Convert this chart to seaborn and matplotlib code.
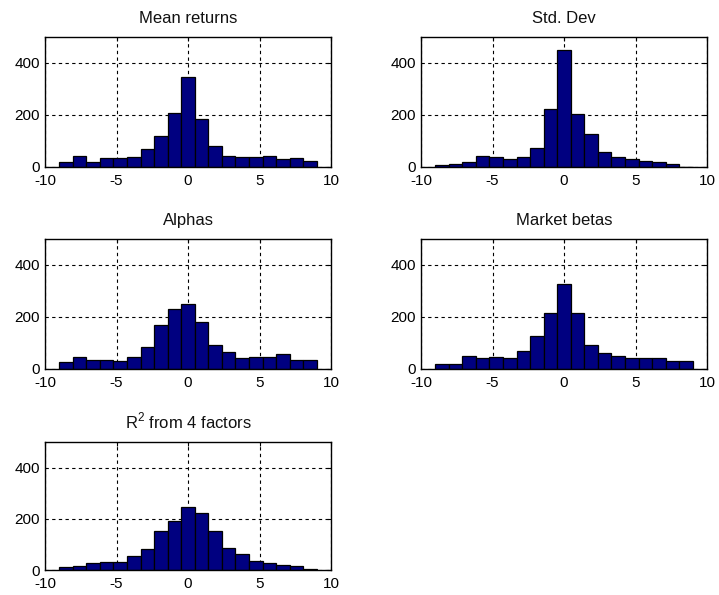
import numpy as np
import pandas as pd
import matplotlib
matplotlib.use("Agg")
import matplotlib.pyplot as plt
import seaborn as sns

# Histogram counts per bin (19 equal bins spanning -9..9)
mean_returns = [19, 41, 19, 33, 33, 38, 69, 119, 207, 347, 183, 79, 44, 38, 38, 44, 29, 34, 24]
std_dev = [6, 13, 19, 44, 39, 29, 39, 75, 222, 451, 202, 128, 58, 39, 29, 24, 19, 10, 0]
alphas = [26, 46, 36, 36, 31, 46, 86, 171, 231, 251, 181, 91, 65, 41, 46, 46, 56, 36, 36]
market_betas = [21, 21, 51, 41, 46, 41, 71, 126, 215, 326, 215, 91, 60, 51, 41, 41, 41, 31, 31]
r2_four_factors = [10, 15, 26, 31, 31, 56, 81, 151, 191, 246, 222, 151, 86, 62, 36, 26, 21, 15, 5]

titles = ["Mean returns", "Std. Dev", "Alphas", "Market betas", r"R$^2$ from 4 factors"]
series = [mean_returns, std_dev, alphas, market_betas, r2_four_factors]

x_lo, x_hi, n_bins = -9.0, 9.0, 19
edges = [float(e) for e in np.linspace(x_lo, x_hi, n_bins + 1)]
centers = [(a + b) / 2 for a, b in zip(edges[:-1], edges[1:])]

sns.set_style("white")
plt.rcParams["font.family"] = ["Liberation Sans", "DejaVu Sans"]
plt.rcParams["axes.unicode_minus"] = False
plt.rcParams["mathtext.fontset"] = "custom"
plt.rcParams["mathtext.rm"] = "Liberation Sans"

W, H = 719, 595
fig = plt.figure(figsize=(W / 100, H / 100), dpi=100)

# axes boxes in pixel coordinates: (left, top, right, bottom)
boxes = [
    (45, 37, 331, 167),
    (421, 37, 707, 167),
    (45, 239, 331, 369),
    (421, 239, 707, 369),
    (45, 442, 331, 570),
]

for title, counts, (l, t, r, b) in zip(titles, series, boxes):
    ax = fig.add_axes([l / W, 1 - b / H, (r - l) / W, (b - t) / H])
    df = pd.DataFrame({"value": centers, "count": counts})
    sns.histplot(data=df, x="value", weights="count", bins=edges,
                 color="#000080", edgecolor="black", linewidth=0.9,
                 alpha=1.0, ax=ax, zorder=2)
    ax.set_xlim(-10, 10)
    ax.set_ylim(0, 500)
    ax.set_xticks([-10, -5, 0, 5, 10])
    ax.set_yticks([0, 200, 400])
    ax.set_xlabel("")
    ax.set_ylabel("")
    ax.set_title(title, fontsize=12, pad=10, color="#111111")
    ax.grid(True, color="black", linestyle=(0, (3, 3)), linewidth=0.8, zorder=1)
    ax.set_axisbelow(True)
    ax.tick_params(direction="in", length=3, labelsize=11, colors="black",
                   top=True, right=True)
    ax.tick_params(axis="x", pad=5)
    for s in ax.spines.values():
        s.set_color("black")
        s.set_linewidth(1.0)
        s.set_visible(True)

fig.savefig("out.png", dpi=100, facecolor="white")
